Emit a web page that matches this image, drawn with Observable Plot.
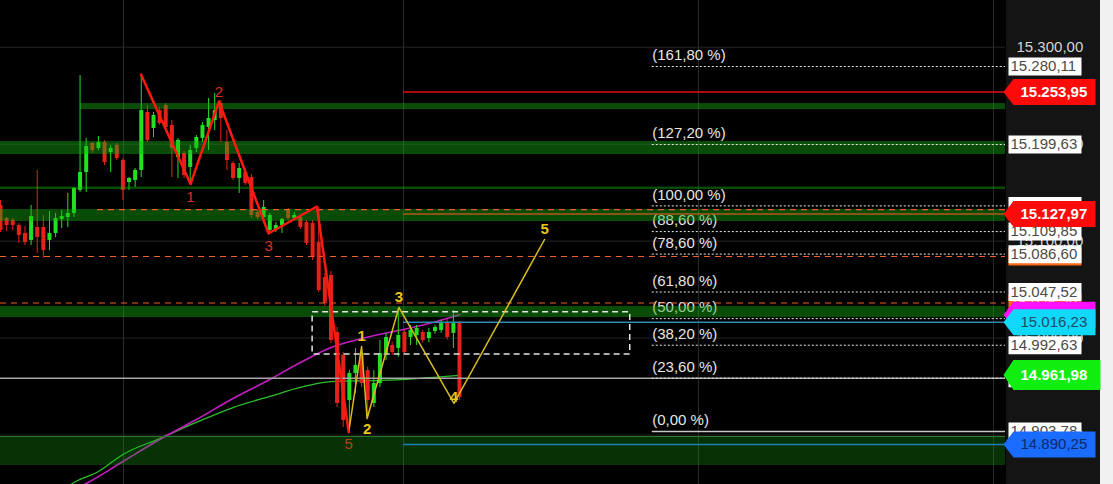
<!DOCTYPE html>
<html><head><meta charset="utf-8">
<script src="https://cdn.jsdelivr.net/npm/d3@7"></script>
<script src="https://cdn.jsdelivr.net/npm/@observablehq/plot@0.6"></script>
<style>html,body{margin:0;padding:0;background:#000;overflow:hidden}</style>
</head><body><div id="chart"></div>
<script>
// ---------- DATA ----------
// Candles (bar index 0..75), prices
const open  = [15136.8,15123.4,15121.3,15116.1,15107.9,15100.7,15114.1,15114.1,15100.7,15107.9,15122.3,15124.4,15128.5,15152.3,15170.8,15200.7,15195.6,15201.7,15191.4,15198.6,15183.2,15160.5,15162.6,15172.9,15232.7,15216.2,15234.7,15239.9,15219.3,15186.2,15190.4,15176.0,15195.6,15205.9,15217.2,15224.4,15241.9,15201.7,15180.1,15164.6,15170.8,15165.6,15129.6,15124.4,15111.0,15111.0,15116.1,15131.6,15123.4,15124.4,15119.2,15118.2,15098.6,15062.5,15064.6,15005.8,14982.1,14935.6,14963.5,14984.1,14966.6,14932.6,14953.2,14984.1,14992.4,14989.3,15005.8,15000.6,15002.7,15005.8,14999.6,15006.8,15007.9,15016.1,15004.8,15016.1];
const high  = [15141.9,15124.4,15123.4,15118.2,15115.1,15136.8,15172.9,15126.5,15130.6,15128.5,15131.6,15149.2,15155.3,15270.8,15205.9,15201.7,15207.9,15203.8,15198.6,15200.7,15185.2,15165.6,15174.9,15271.9,15239.9,15232.7,15237.8,15241.9,15224.4,15205.9,15192.4,15198.6,15208.9,15222.4,15247.1,15252.3,15245.0,15214.1,15182.1,15180.1,15173.9,15168.7,15131.6,15141.9,15128.5,15119.2,15123.4,15133.7,15129.6,15127.5,15121.3,15121.3,15134.7,15066.6,15068.7,15010.9,14985.2,14966.6,14989.3,14990.3,14970.0,14966.6,14997.5,15004.8,14996.0,15030.5,15008.0,15013.0,15013.0,15008.0,15010.0,15013.0,15018.0,15019.0,15028.5,15017.0];
const low   = [15108.9,15110.0,15111.0,15097.6,15095.5,15095.5,15087.3,15082.1,15090.3,15103.8,15113.0,15114.1,15124.4,15150.2,15150.2,15190.4,15193.5,15178.0,15170.8,15183.2,15141.9,15152.3,15155.3,15165.6,15201.7,15206.9,15219.3,15215.2,15165.6,15164.6,15164.6,15159.5,15191.4,15201.7,15193.5,15214.1,15201.7,15172.9,15162.6,15149.2,15157.4,15123.4,15122.3,15118.2,15107.9,15108.9,15107.9,15121.3,15121.3,15112.0,15095.5,15080.0,15047.0,15032.6,14994.4,14928.4,14907.8,14902.6,14942.8,14949.1,14917.0,14928.4,14949.1,14977.0,14982.0,14980.0,14983.0,14992.4,14992.4,14995.0,14995.0,15004.0,15005.0,14998.0,14989.3,14936.0];
const close = [15111.0,15116.1,15116.1,15105.8,15098.6,15125.4,15103.8,15090.3,15107.9,15123.4,15125.4,15128.5,15154.3,15170.8,15197.6,15193.5,15201.7,15181.1,15195.6,15185.2,15152.3,15164.6,15172.9,15234.7,15203.8,15229.6,15221.3,15217.2,15195.6,15203.8,15167.7,15193.5,15206.9,15219.3,15226.5,15234.7,15226.5,15183.2,15164.6,15174.9,15159.5,15126.5,15124.4,15134.7,15126.5,15116.1,15122.3,15123.4,15126.5,15114.1,15097.6,15083.1,15049.1,15035.7,14997.5,14932.6,14915.0,14963.5,14971.8,14953.2,14935.6,14953.2,14984.1,15000.6,14985.2,15002.7,14985.2,15007.9,15009.9,14997.5,15005.8,15010.9,15015.0,15000.6,15015.0,14938.7];

// Moving averages (bar index, value)
const maMagentaIdx = [11, 14, 20, 26, 32, 38, 44, 49, 54, 59, 65, 70, 75];
const maMagenta    = [14840.8,14850.0,14872.7,14895.4,14916.0,14937.7,14957.3,14974.8,14990.3,14999.6,15007.9,15015.0,15024.0];
const maGreenIdx   = [10, 12, 16, 20, 26, 32, 38, 44, 49, 54, 62, 68, 75];
const maGreen      = [14842.8,14851.1,14862.4,14880.0,14896.4,14913.0,14928.4,14939.8,14949.1,14955.2,14956.3,14958.3,14961.5];

// Elliott-wave zigzags
const redWaveIdx    = [22.96, 31.05, 35.7, 43.8, 51.7, 56.9];
const redWave       = [15271.9, 15158.9, 15244.0, 15107.9, 15135.7, 14902.9];
const redWaveLabels = ["", "1", "2", "3", "", "5"];
const yelWaveIdx    = [56.9, 59.0, 59.9, 65.1, 74.1, 88.9];
const yelWave       = [14902.9, 14991.3, 14917.1, 15031.6, 14932.6, 15101.7];
const yelWaveLabels = ["", "1", "2", "3", "4", "5"];

// Fibonacci levels
const fibStart  = 106.5;
const fibLevels = [15280.11, 15199.63, 15136.36, 15109.85, 15086.60, 15047.52, 15020.07, 14992.63, 14958.67, 14903.78];
const fibPct    = ["(161,80 %)","(127,20 %)","(100,00 %)","(88,60 %)","(78,60 %)","(61,80 %)","(50,00 %)","(38,20 %)","(23,60 %)","(0,00 %)"];

// Zones (green bands): top, bottom, start bar
const zoneTop    = [15241.9, 15202.8, 15155.8, 15132.6, 15032.6];
const zoneBottom = [15235.7, 15189.4, 15153.3, 15120.3, 15021.2];
const zoneStart  = [13.07, 0, 0, 0, 0];
const supportZone = {top: 14898.5, bottom: 14868.6};

// Horizontal levels
const orderStart   = 65.85;
const redLevel     = 15253.95;
const stopLevel    = 15127.97;
const tealLevel    = 15016.23;
const blueLevel    = 14890.25;
const orangeDashed = [15132.6, 15084.15, 15036.2];
const orangeDashedStart = [15.85, 0, 0];
const greyLevel    = 14958.67;

// Dashed range box
const rangeBox = {x1: 51.0, x2: 102.9, top: 15026.7, bottom: 14983.1};

// Grid
const gridPrices = [15300, 15200, 15100, 15000, 14900];
const gridBars   = [20.1, 65.85, 114.05, 162.25];

// Right-axis price tags
const tickPrices   = [15300, 15200, 15100, 15000, 14900];
const orangeTags   = [15084.15, 15036.2];
const whiteTags    = fibLevels;
const magentaTag   = 15024.0;
const cyanTag      = 15016.23;
const redTags      = [15253.95, 15127.97];
const greenTag     = 14961.98;
const blueTag      = 14890.25;

// ---------- CHART ----------
const xMax = 164.22;
const fmt = d3.formatLocale({decimal: ",", thousands: ".", grouping: [3], currency: ["", ""]}).format(",.2f");
const GREEN = "#22e022", RED = "#e8201a";

const candles = open.map((o, i) => ({i, o, h: high[i], l: low[i], c: close[i]}));
const ups = candles.filter(d => d.c >= d.o), downs = candles.filter(d => d.c < d.o);
const fibData = fibLevels.map((p, k) => ({p, pct: fibPct[k]}));
const zones = zoneTop.map((t, k) => ({t, b: zoneBottom[k], s: zoneStart[k]}));
const magData = maMagentaIdx.map((i, k) => ({i, v: maMagenta[k]}));
const grnData = maGreenIdx.map((i, k) => ({i, v: maGreen[k]}));
const redZ = redWaveIdx.map((i, k) => ({i, v: redWave[k], t: redWaveLabels[k]}));
const yelZ = yelWaveIdx.map((i, k) => ({i, v: yelWave[k], t: yelWaveLabels[k]}));
const orangeLines = orangeDashed.map((p, k) => ({p, s: orangeDashedStart[k]}));

function boxSym(x0, x1, h, tip) {
  return {draw(ctx) {
    const t = -h / 2, b = h / 2;
    if (tip != null) { ctx.moveTo(tip, 0); ctx.lineTo(x0, t); } else ctx.moveTo(x0, t);
    ctx.lineTo(x1, t); ctx.lineTo(x1, b); ctx.lineTo(x0, b); ctx.closePath();
  }};
}
const plainBox = boxSym(3, 76, 18);
const arrowBox = boxSym(8, 90, 26, -2);
const bigArrow = boxSym(8, 95, 30, -2);

function tag(values, sym, fill, textFill, weight, dx) {
  return [
    Plot.dot(values, {y: d => d, frameAnchor: "right", symbol: sym, fill, stroke: "none"}),
    Plot.text(values, {y: d => d, frameAnchor: "right", textAnchor: "start", dx, text: d => fmt(d), fill: textFill, fontSize: 15, fontWeight: weight})
  ];
}

const chart = Plot.plot({
  width: 1113, height: 484,
  marginLeft: 0, marginRight: 108, marginTop: 0, marginBottom: 0,
  x: {domain: [0, xMax], axis: null},
  y: {domain: [14849.0, 15348.2], axis: null},
  style: {background: "linear-gradient(to right, #000 0px, #000 1006px, #141414 1006px, #141414 1100px, #f1f1f1 1100px)", fontFamily: "'Liberation Sans', Arial, sans-serif", color: "#ddd"},
  marks: [
    Plot.ruleY(gridPrices, {y: d => d, stroke: "#262626"}),
    Plot.ruleX(gridBars, {x: d => d, stroke: "#2c2c2c"}),
    Plot.line(grnData, {x: "i", y: "v", stroke: "#2cc02c", strokeWidth: 1.3, curve: "monotone-x", clip: true}),
    Plot.line(magData, {x: "i", y: "v", stroke: "#c21ec2", strokeWidth: 1.6, curve: "monotone-x", clip: true}),
    Plot.ruleX(ups, {x: "i", y1: "l", y2: "h", stroke: GREEN, strokeWidth: 1}),
    Plot.ruleX(downs, {x: "i", y1: "l", y2: "h", stroke: RED, strokeWidth: 1}),
    Plot.ruleX(ups, {x: "i", y1: "o", y2: "c", stroke: GREEN, strokeWidth: 4}),
    Plot.ruleX(downs, {x: "i", y1: "o", y2: "c", stroke: RED, strokeWidth: 4}),
    Plot.text(fibData, {x: fibStart, y: "p", text: "pct", textAnchor: "start", dy: -11, fill: "#e6e6e6", fontSize: 15}),
    Plot.rect(zones, {x1: "s", x2: xMax, y1: "b", y2: "t", fill: "#14b414", fillOpacity: 0.42}),
    Plot.rect([supportZone], {x1: 0, x2: xMax, y1: "bottom", y2: "top", fill: "#14b414", fillOpacity: 0.28}),
    Plot.ruleY([supportZone.top], {y: d => d, x1: 0, x2: xMax, stroke: "#2a7a2a", strokeWidth: 1}),
    Plot.ruleY(orangeLines, {y: "p", x1: "s", x2: xMax, stroke: "#f06028", strokeDasharray: "6,5", strokeWidth: 1.2}),
    Plot.ruleY([greyLevel], {y: d => d, x1: 0, x2: xMax, stroke: "#a6a6a6", strokeWidth: 1.5}),
    Plot.ruleY([redLevel], {y: d => d, x1: orderStart, x2: xMax, stroke: "#e01010", strokeWidth: 1.5}),
    Plot.ruleY([stopLevel], {y: d => d, x1: orderStart, x2: xMax, stroke: "#b0581a", strokeWidth: 1.5}),
    Plot.ruleY([tealLevel], {y: d => d, x1: orderStart, x2: xMax, stroke: "#2a8cb0", strokeWidth: 1.5}),
    Plot.ruleY([blueLevel], {y: d => d, x1: orderStart, x2: xMax, stroke: "#1f7fb4", strokeWidth: 1.5}),
    Plot.ruleY(fibData.filter(d => d.pct !== "(0,00 %)"), {y: "p", x1: fibStart, x2: xMax, stroke: "#e8e8e8", strokeDasharray: "2,2"}),
    Plot.ruleY(fibData.filter(d => d.pct === "(0,00 %)"), {y: "p", x1: fibStart, x2: xMax, stroke: "#c8c8c8", strokeWidth: 1.5}),
    Plot.rect([rangeBox], {x1: "x1", x2: "x2", y1: "bottom", y2: "top", fill: "none", stroke: "#e4e4e4", strokeDasharray: "6,4", strokeWidth: 1.5}),
    Plot.line(yelZ, {x: "i", y: "v", stroke: "#d8bc1c", strokeWidth: 1.5}),
    Plot.line(redZ, {x: "i", y: "v", stroke: "#ff1a10", strokeWidth: 2.5}),
    Plot.text(redZ.filter(d => d.t === "2"), {x: "i", y: "v", text: "t", dy: -9, fill: "#d83028", fontSize: 15}),
    Plot.text(redZ.filter(d => d.t === "1" || d.t === "3"), {x: "i", y: "v", text: "t", dy: 13, fill: "#d83028", fontSize: 15}),
    Plot.text(redZ.filter(d => d.t === "5"), {x: "i", y: "v", text: "t", dy: 12, fill: "#b8401c", fontSize: 15}),
    Plot.text(yelZ.filter(d => ["1", "3", "5"].includes(d.t)), {x: "i", y: "v", text: "t", dy: -10, fill: "#e8c41c", fontSize: 15, fontWeight: "bold"}),
    Plot.text(yelZ.filter(d => d.t === "2"), {x: "i", y: "v", text: "t", dy: 11, fill: "#e8c41c", fontSize: 15, fontWeight: "bold"}),
    Plot.text(yelZ.filter(d => d.t === "4"), {x: "i", y: "v", text: "t", dy: -6, fill: "#e8c41c", fontSize: 15, fontWeight: "bold"}),
    // right axis
    Plot.text(tickPrices, {y: d => d, frameAnchor: "right", textAnchor: "start", dx: 11, text: d => fmt(d), fill: "#d4d4d4", fontSize: 15}),
    ...tag(orangeTags, plainBox, "#ff6a1a", "#fff", "normal", 5),
    ...tag(whiteTags, plainBox, "#ffffff", "#4a4a4a", "normal", 5),
    ...tag([magentaTag], arrowBox, "#ff10ff", "#fff", "bold", 15),
    ...tag([cyanTag], arrowBox, "#10d8f8", "#1d4a66", "normal", 15),
    ...tag(redTags, arrowBox, "#ff0a0a", "#ffffff", "bold", 15),
    ...tag([greenTag], bigArrow, "#10ee10", "#ffffff", "bold", 15),
    ...tag([blueTag], arrowBox, "#1a6cff", "#0c2a66", "normal", 15)
  ]
});
document.getElementById("chart").appendChild(chart);
</script>
</body></html>
